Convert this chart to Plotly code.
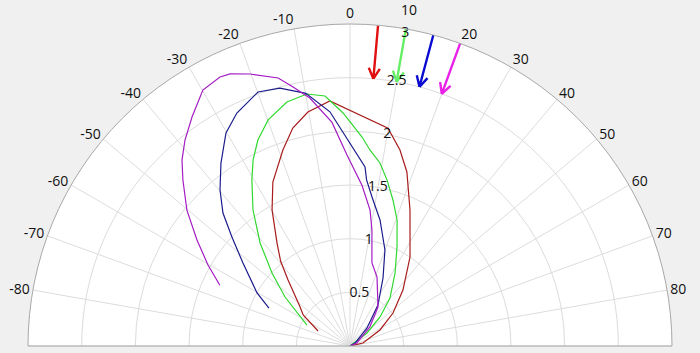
import numpy as np
import plotly.graph_objects as go

# ---- data (theta in degrees, clockwise from top; r in radial units) ----
red_theta = [-64.9, -56.5, -51.9, -43.2, -39.3, -35.4, -29.8, -25.2, -18.9, -14.7, -10.2, -4.7, 9.9, 14.3, 18.1, 23.8, 34.0, 43.4, 52.5, 61.9, 77.0, 80.0]
red_r = [0.329, 0.523, 0.592, 0.843, 1.02, 1.173, 1.461, 1.688, 1.93, 2.10, 2.215, 2.29, 2.06, 1.885, 1.706, 1.385, 1.0, 0.718, 0.505, 0.317, 0.124, 0.0]

green_theta = [-64.0, -53.0, -46.9, -41.1, -35.5, -30.6, -27.5, -24.1, -19.9, -14.5, -9.7, -5.7, -1.7, 3.3, 5.8, 9.3, 12.6, 16.4, 20.5, 25.4, 31.7, 39.8, 46.0, 52.6, 60.0]
green_r = [0.446, 0.758, 0.995, 1.274, 1.556, 1.796, 1.955, 2.102, 2.24, 2.348, 2.382, 2.341, 2.172, 1.95, 1.836, 1.728, 1.584, 1.418, 1.253, 1.021, 0.799, 0.582, 0.389, 0.2, 0.0]

blue_theta = [-64.9, -60.3, -52.2, -47.3, -43.7, -39.8, -35.2, -30.2, -25.9, -19.9, -15.2, -9.9, -4.9, 4.8, 5.7, 8.4, 13.4, 20.0, 25.9, 34.3, 43.4, 59.0, 65.0]
blue_r = [0.834, 0.997, 1.262, 1.497, 1.713, 1.892, 2.086, 2.297, 2.413, 2.517, 2.49, 2.39, 2.19, 1.674, 1.555, 1.403, 1.207, 0.952, 0.704, 0.462, 0.231, 0.054, 0.0]

magenta_theta = [-65.0, -60.3, -55.3, -50.2, -45.2, -42.1, -38.7, -34.6, -29.9, -25.8, -23.8, -20.2, -15.0, -12.4, -9.2, -4.6, -0.9, 4.3, 8.4, 10.7, 14.8, 21.4, 35.7, 46.0, 66.0, 70.0]
magenta_r = [1.338, 1.523, 1.734, 1.978, 2.194, 2.335, 2.459, 2.592, 2.750, 2.784, 2.77, 2.70, 2.585, 2.47, 2.34, 2.09, 1.78, 1.50, 1.28, 1.10, 0.80, 0.69, 0.447, 0.257, 0.07, 0.0]

curve_colors = ["#a81c1c", "#2fd82f", "#1c1c8c", "#a41cc4"]

arrow_theta = [5, 10, 15, 20]
arrow_r_start = 3.0
arrow_r_end = 2.5
arrow_colors = ["#e01010", "#66ee66", "#0a0ad0", "#e820e8"]

radial_max = 3.0
radial_label_vals = [0.5, 1, 1.5, 2, 2.5, 3]
radial_label_text = ["0.5", "1", "1.5", "2", "2.5", "3"]
radial_label_pos = [0.5, 1, 1.5, 2, 2.5, 2.96]   # outermost label nudged inward
radial_label_theta = 10

angular_ticks = list(range(-90, 91, 10))
# the "10" angle label sits a bit further out (above the radial "3" label)
lifted_tick = 10
lifted_tick_r = 3.18

# ---- figure ----
fig = go.Figure()

series = [(red_theta, red_r), (green_theta, green_r), (blue_theta, blue_r), (magenta_theta, magenta_r)]
for (th, rr), col in zip(series, curve_colors):
    fig.add_trace(go.Scatterpolar(theta=th, r=rr, mode="lines",
                                  line=dict(color=col, width=1.2),
                                  hoverinfo="skip", showlegend=False))


def to_xy(r, th):
    t = np.radians(th)
    return r * np.sin(t), r * np.cos(t)


def to_polar(x, y):
    return float(np.hypot(x, y)), float(np.degrees(np.arctan2(x, y)))


head_len = 0.11
head_ang = np.radians(28)
for th, col in zip(arrow_theta, arrow_colors):
    tx, ty = to_xy(arrow_r_end, th)
    ux, uy = np.sin(np.radians(th)), np.cos(np.radians(th))
    arms = []
    for s in (1, -1):
        a = s * head_ang
        rx = ux * np.cos(a) - uy * np.sin(a)
        ry = ux * np.sin(a) + uy * np.cos(a)
        arms.append(to_polar(tx + head_len * rx, ty + head_len * ry))
    rs = [arrow_r_start, arrow_r_end, arms[0][0], None, arrow_r_end, arms[1][0]]
    ts = [th, th, arms[0][1], None, th, arms[1][1]]
    fig.add_trace(go.Scatterpolar(theta=ts, r=rs, mode="lines",
                                  line=dict(color=col, width=2.4),
                                  connectgaps=False,
                                  hoverinfo="skip", showlegend=False))

fig.add_trace(go.Scatterpolar(theta=[radial_label_theta] * len(radial_label_pos),
                              r=radial_label_pos, mode="text",
                              text=radial_label_text, textposition="middle center",
                              textfont=dict(size=14, color="#111111", family="Open Sans"),
                              hoverinfo="skip", showlegend=False))

# half-disc fills the plot area exactly (width = 2R, height = R), so polar -> paper
lx, ly = to_xy(lifted_tick_r / radial_max, lifted_tick)
fig.add_annotation(x=0.5 + 0.5 * lx, y=ly, xref="paper", yref="paper",
                   text=str(lifted_tick), showarrow=False,
                   xanchor="center", yanchor="middle",
                   font=dict(size=14, color="#111111", family="Open Sans"))

fig.update_layout(
    width=700, height=353,
    margin=dict(l=28, r=28, t=24, b=7),
    paper_bgcolor="#f0f0f0",
    font=dict(family="Open Sans", size=14, color="#111111"),
    polar=dict(
        bgcolor="white",
        sector=[0, 180],
        domain=dict(x=[0, 1], y=[0, 1]),
        angularaxis=dict(
            rotation=90, direction="clockwise", thetaunit="degrees",
            tickmode="array",
            tickvals=angular_ticks,
            ticktext=["" if (abs(t) == 90 or t == lifted_tick) else str(t) for t in angular_ticks],
            ticks="", showline=True, linecolor="#a8a8a8", linewidth=1,
            gridcolor="#dcdcdc", gridwidth=1,
            tickfont=dict(size=14, color="#111111"),
        ),
        radialaxis=dict(
            range=[0, radial_max], tickmode="array", tickvals=radial_label_vals,
            showticklabels=False, ticks="", showline=False,
            gridcolor="#dcdcdc", gridwidth=1,
        ),
    ),
)

fig.write_html("out.html")
